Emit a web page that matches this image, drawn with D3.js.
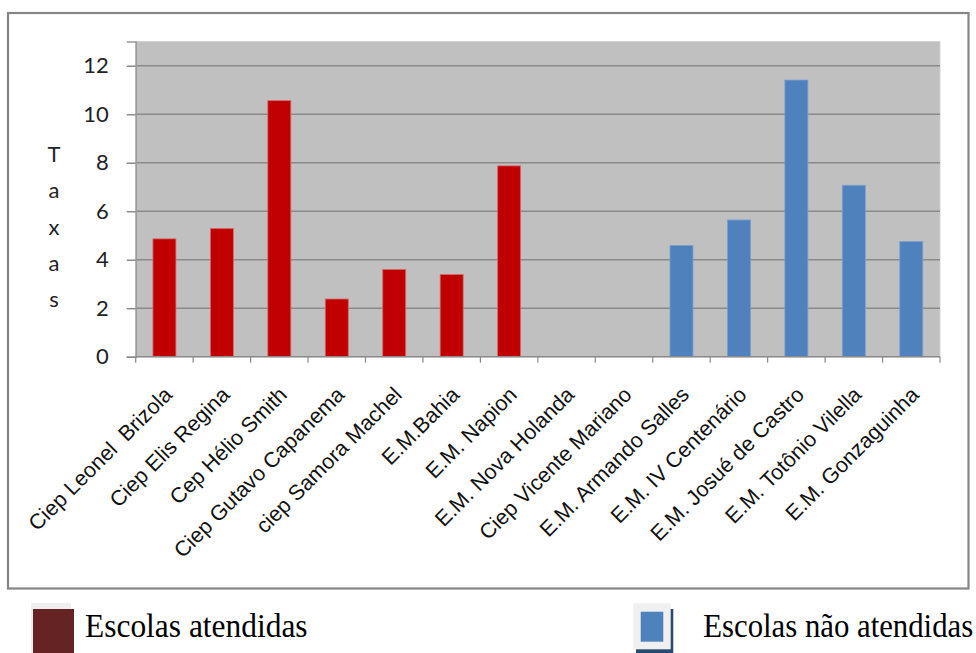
<!DOCTYPE html>
<html>
<head>
<meta charset="utf-8">
<script src="https://cdn.jsdelivr.net/npm/d3@7"></script>
<style>
  html, body { margin: 0; padding: 0; background: #fff; }
  svg { display: block; }
  .xlab { white-space: pre; }
</style>
</head>
<body>
<svg id="chart" width="976" height="653"></svg>
<script>
// Schools along the category axis
const schools = [
  "Ciep Leonel  Brizola", "Ciep Elis Regina", "Cep Hélio Smith", "Ciep Gutavo Capanema",
  "ciep Samora Machel", "E.M.Bahia", "E.M. Napion", "E.M. Nova Holanda",
  "Ciep Vicente Mariano", "E.M. Armando Salles", "E.M. IV Centenário",
  "E.M. Josué de Castro", "E.M. Totônio Vilella", "E.M. Gonzaguinha"
];
// Rates per school, one array per group (null = school not in that group)
const atendidas    = [4.86, 5.29, 10.56, 2.38, 3.60, 3.39, 7.87, 0, 0, null, null, null, null, null];
const naoAtendidas = [null, null, null, null, null, null, null, null, null, 4.59, 5.64, 11.41, 7.07, 4.75];
const yTicks = [0, 2, 4, 6, 8, 10, 12];
const yTitle = ["T", "a", "x", "a", "s"];
const legendLabels = ["Escolas atendidas", "Escolas não atendidas"];

const svg = d3.select("#chart");
const plot = { left: 135.7, right: 940, top: 41.5, bottom: 356.7 };

// outer frame
svg.append("rect")
  .attr("x", 8).attr("y", 13).attr("width", 960.5).attr("height", 575.5)
  .attr("fill", "#fff").attr("stroke", "#858585").attr("stroke-width", 2.2);

const x = d3.scaleBand().domain(schools)
  .range([plot.left, plot.right]).paddingInner(0.6).paddingOuter(0.3);
const y = d3.scaleLinear().domain([0, 13]).range([plot.bottom, plot.top]);

// plot background
svg.append("rect")
  .attr("x", plot.left).attr("y", plot.top)
  .attr("width", plot.right - plot.left).attr("height", plot.bottom - plot.top)
  .attr("fill", "#c0c0c0").attr("stroke", "#d2d2d2").attr("stroke-width", 1);

// horizontal gridlines
svg.append("g").selectAll("line").data(yTicks.filter(d => d > 0)).join("line")
  .attr("x1", plot.left).attr("x2", plot.right)
  .attr("y1", d => y(d)).attr("y2", d => y(d))
  .attr("stroke", "#8a8a8a").attr("stroke-width", 1.5);

// y axis
const yAxis = svg.append("g").attr("transform", `translate(${plot.left},0)`)
  .call(d3.axisLeft(y).tickValues(yTicks).tickSize(9).tickPadding(18).tickFormat(d3.format("d")));
yAxis.select(".domain").attr("stroke", "#9a9a9a").attr("stroke-width", 1.5);
yAxis.selectAll(".tick line").attr("stroke", "#8a8a8a").attr("stroke-width", 1.5);
yAxis.selectAll(".tick text")
  .attr("font-family", "Lato, 'Open Sans', sans-serif").attr("font-size", 22)
  .attr("fill", "#222");

// y title, one letter per line
svg.append("g").selectAll("text").data(yTitle).join("text")
  .attr("x", 54).attr("y", (d, i) => 162 + i * 36.3)
  .attr("text-anchor", "middle")
  .attr("font-family", "Lato, 'Open Sans', sans-serif").attr("font-size", 22)
  .attr("fill", "#222")
  .text(d => d);

// bars
const barGroups = [
  { values: atendidas, fill: "#c00000", stroke: "#d46a6a" },
  { values: naoAtendidas, fill: "#4f81bd", stroke: "#7b9fce" }
];
barGroups.forEach(g => {
  const rows = schools.map((s, i) => ({ s, v: g.values[i] })).filter(r => r.v != null && r.v > 0);
  svg.append("g").selectAll("rect").data(rows).join("rect")
    .attr("x", r => x(r.s)).attr("width", x.bandwidth())
    .attr("y", r => y(r.v)).attr("height", r => y(0) - y(r.v))
    .attr("fill", g.fill).attr("stroke", g.stroke).attr("stroke-width", 0.8);
});

// x axis line and category boundary ticks
svg.append("line")
  .attr("x1", plot.left).attr("x2", plot.right)
  .attr("y1", y(0)).attr("y2", y(0))
  .attr("stroke", "#8a8a8a").attr("stroke-width", 1.5);
const bounds = d3.range(schools.length + 1).map(i => plot.left + i * x.step());
svg.append("g").selectAll("line").data(bounds).join("line")
  .attr("x1", d => d).attr("x2", d => d)
  .attr("y1", y(0)).attr("y2", y(0) + 6)
  .attr("stroke", "#8a8a8a").attr("stroke-width", 1.2);

// rotated category labels
svg.append("g").selectAll("text").data(schools).join("text")
  .attr("class", "xlab")
  .attr("transform", d => `translate(${x(d) + x.bandwidth() / 2 + 9},396) rotate(-45)`)
  .attr("text-anchor", "end")
  .attr("font-family", "'Liberation Sans', Arial, sans-serif").attr("font-size", 21.5)
  .attr("fill", "#111")
  .text(d => d);

// legend
const leg = svg.append("g");
leg.append("rect").attr("x", 31).attr("y", 603).attr("width", 40).attr("height", 50).attr("fill", "#efefef");
leg.append("rect").attr("x", 33).attr("y", 609).attr("width", 41).attr("height", 44).attr("fill", "#652323");
leg.append("rect").attr("x", 636).attr("y", 609).attr("width", 37.3).attr("height", 44).attr("fill", "#2b4a6f");
leg.append("rect").attr("x", 633.3).attr("y", 603.3).attr("width", 37.4).attr("height", 46).attr("fill", "#f0f0f0");
leg.append("rect").attr("x", 640.7).attr("y", 611.7).attr("width", 22.6).attr("height", 30).attr("fill", "#4f81bd");

[[85, legendLabels[0], 0.925], [703.3, legendLabels[1], 0.905]].forEach(([lx, t, sx]) => {
  leg.append("text")
    .attr("transform", `translate(${lx},637) scale(${sx},1)`)
    .attr("font-family", "'Liberation Serif', 'Times New Roman', serif").attr("font-size", 34)
    .attr("fill", "#000")
    .text(t);
});
</script>
</body>
</html>
